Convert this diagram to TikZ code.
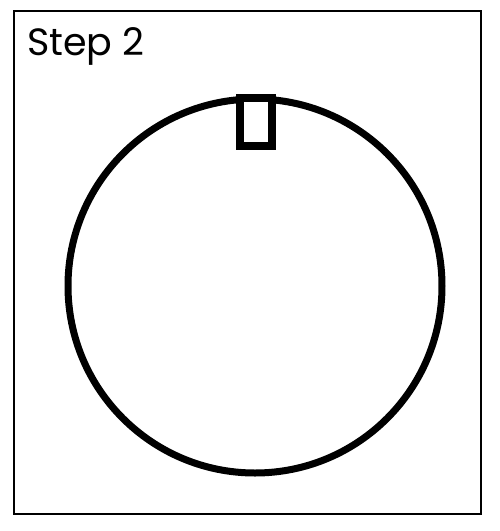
\documentclass[tikz,border=0pt]{standalone}
\usepackage{fontspec}
\setmainfont{Poppins}
\tikzset{
  frame/.style={draw=black, line width=2.5pt},
  ring/.style={draw=black, line width=7pt},
  slot/.style={draw=black, fill=white, line width=8pt},
  lbl/.style={anchor=base west, inner sep=0pt, font=\fontsize{38}{40}\selectfont}
}
\begin{document}
\begin{tikzpicture}[x=1pt, y=-1pt]
  \path[use as bounding box] (0,0) rectangle (500,531);
  \fill[white] (0,0) rectangle (500,531);
  \node[frame, rectangle, minimum width=467pt, minimum height=503pt, inner sep=0pt] (box) at (247.5,262.5) {};
  \node[lbl] (title) at (27,55) {Step 2};
  \node[ring, circle, minimum size=374pt, inner sep=0pt] (disc) at (255,286) {};
  \node[slot, rectangle, minimum width=32pt, minimum height=48pt, inner sep=0pt] (notch) at (255.5,122) {};
\end{tikzpicture}
\end{document}
